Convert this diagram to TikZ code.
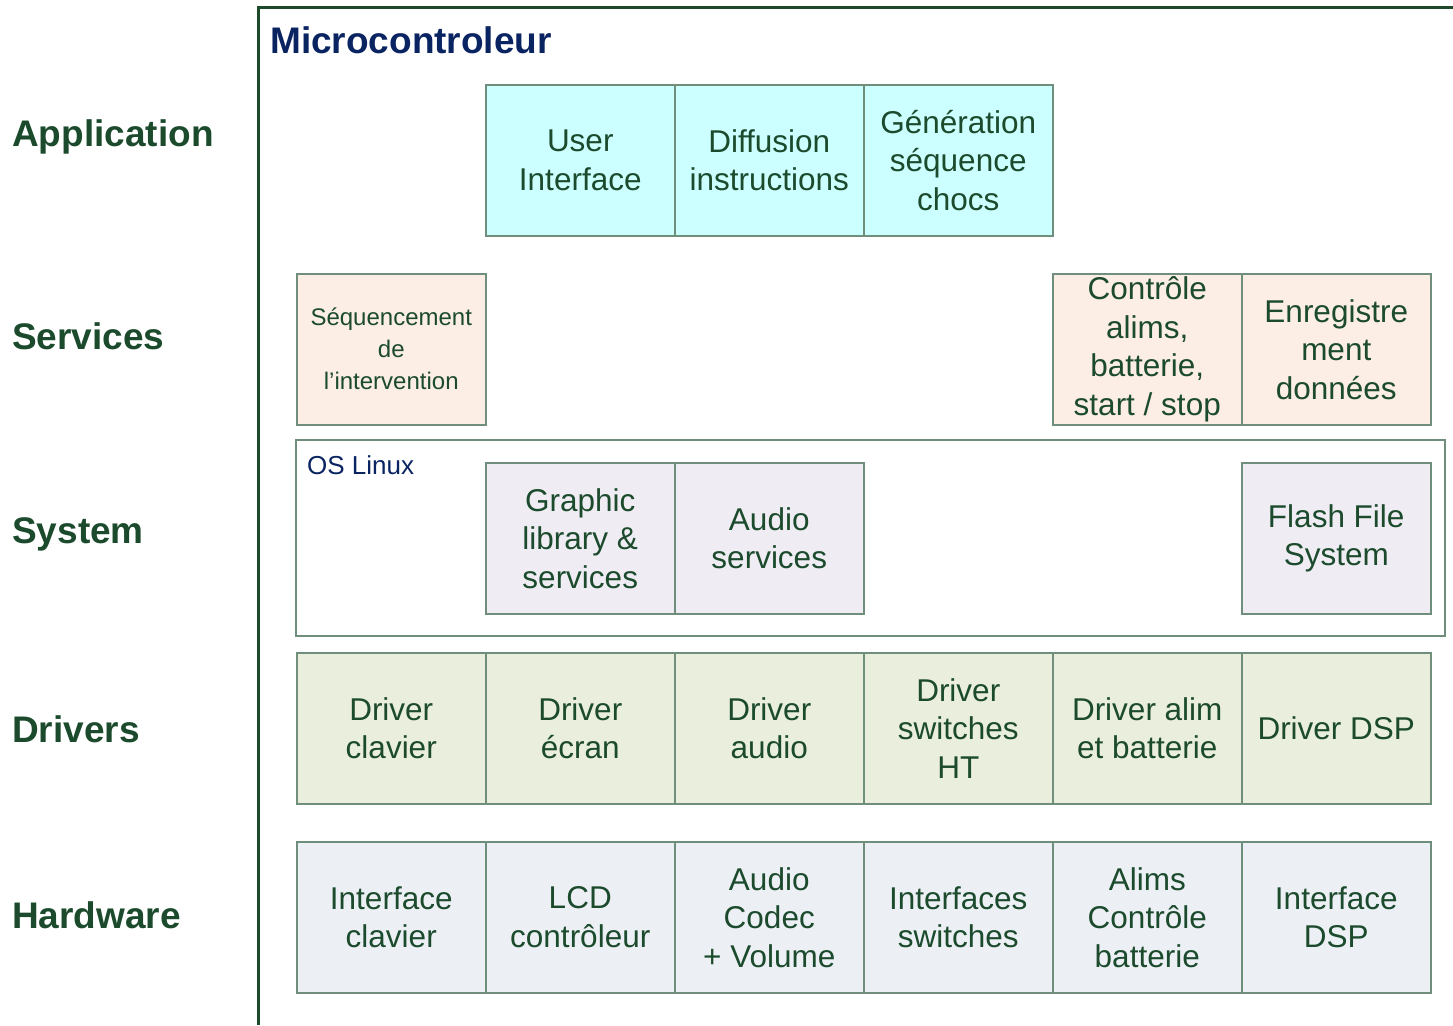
\documentclass[tikz,border=0pt]{standalone}
\usepackage{fontspec}
\setmainfont{Liberation Sans}
\definecolor{txtgreen}{HTML}{1B4A2C}
\definecolor{framegreen}{HTML}{1E4A2C}
\definecolor{boxborder}{HTML}{6F8F7C}
\definecolor{navytitle}{HTML}{0A2462}
\definecolor{appfill}{HTML}{CCFFFF}
\definecolor{servfill}{HTML}{FCEEE4}
\definecolor{sysfill}{HTML}{EFEDF3}
\definecolor{drvfill}{HTML}{EAEEDD}
\definecolor{hwfill}{HTML}{ECF0F5}

\begin{document}
\begin{tikzpicture}[
  x=1pt, y=-1pt,
  every node/.style={text=txtgreen, align=center},
  layer/.style={anchor=west, inner sep=0pt, font=\fontsize{37}{44}\selectfont\bfseries},
  block/.style={draw=boxborder, line width=1.5pt, anchor=north west, minimum width=189pt, minimum height=151pt, inner sep=0pt, font=\fontsize{31.5}{38.5}\selectfont},
  app/.style={block, fill=appfill},
  serv/.style={block, fill=servfill},
  sys/.style={block, fill=sysfill},
  drv/.style={block, fill=drvfill},
  hw/.style={block, fill=hwfill}
]
\useasboundingbox (0,0) rectangle (1453,1025);

% Outer frame (open at right and bottom)
\draw[framegreen, line width=3pt] (258,1025) -- (258,8) -- (1455,8);
\node[anchor=west, inner sep=0pt, text=navytitle, font=\fontsize{37}{44}\selectfont\bfseries] (title) at (270,40) {Microcontroleur};

% Layer names
\node[layer] (lapp) at (12,137) {Application};
\node[layer] (lserv) at (12,336) {Services};
\node[layer] (lsys) at (12,534) {System};
\node[layer] (ldrv) at (12,729) {Drivers};
\node[layer] (lhw) at (12,915) {Hardware};

% Application
\node[app] (userif) at (485,84) {User\\Interface};
\node[app] (diffusion) at (674,84) {Diffusion\\instructions};
\node[app] (generation) at (863,84) {Génération\\séquence\\chocs};

% Services
\node[serv, font=\fontsize{24}{32}\selectfont] (sequencement) at (296,273) {Séquencement\\de\\l’intervention};
\node[serv] (controle) at (1052,273) {Contrôle\\alims,\\batterie,\\start / stop};
\node[serv] (enregistrement) at (1241,273) {Enregistre\\ment\\données};

% System
\draw[boxborder, line width=1.5pt, fill=white] (296,440) rectangle (1445,636);
\node[anchor=west, inner sep=0pt, text=navytitle, font=\fontsize{26}{31}\selectfont] (oslinux) at (307,465) {OS Linux};
\node[sys] (graphic) at (485,462) {Graphic\\library \&\\services};
\node[sys] (audiosrv) at (674,462) {Audio\\services};
\node[sys] (flashfs) at (1241,462) {Flash File\\System};

% Drivers
\node[drv] (drvclavier) at (296,652) {Driver\\clavier};
\node[drv] (drvecran) at (485,652) {Driver\\écran};
\node[drv] (drvaudio) at (674,652) {Driver\\audio};
\node[drv] (drvswitch) at (863,652) {Driver\\switches\\HT};
\node[drv] (drvalim) at (1052,652) {Driver alim\\et batterie};
\node[drv] (drvdsp) at (1241,652) {Driver DSP};

% Hardware
\node[hw] (hwclavier) at (296,841) {Interface\\clavier};
\node[hw] (hwlcd) at (485,841) {LCD\\contrôleur};
\node[hw] (hwcodec) at (674,841) {Audio\\Codec\\+ Volume};
\node[hw] (hwswitch) at (863,841) {Interfaces\\switches};
\node[hw] (hwalims) at (1052,841) {Alims\\Contrôle\\batterie};
\node[hw] (hwdsp) at (1241,841) {Interface\\DSP};
\end{tikzpicture}
\end{document}
